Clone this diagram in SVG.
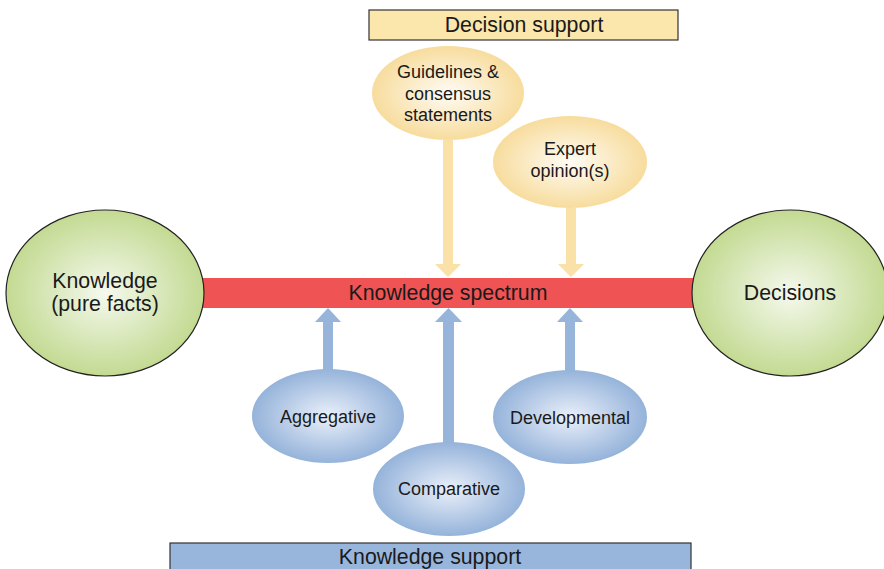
<svg xmlns="http://www.w3.org/2000/svg" width="884" height="569" viewBox="0 0 884 569">
  <defs>
    <radialGradient id="gGreen" cx="50%" cy="50%" r="50%">
      <stop offset="0" stop-color="#f5f9ee"/>
      <stop offset="1" stop-color="#c3da92"/>
    </radialGradient>
    <radialGradient id="gYellow" cx="50%" cy="50%" r="50%">
      <stop offset="0" stop-color="#fffcf5"/>
      <stop offset="1" stop-color="#f7dc9d"/>
    </radialGradient>
    <radialGradient id="gBlue" cx="50%" cy="50%" r="50%">
      <stop offset="0" stop-color="#eaf0fa"/>
      <stop offset="1" stop-color="#95b3da"/>
    </radialGradient>
  </defs>
  <style>
    text { font-family: "Liberation Sans", Arial, sans-serif; fill: #1a1a1a; text-anchor: middle; }
    .big { font-size: 21.3px; }
    .small { font-size: 18px; }
    .green { fill: url(#gGreen); stroke: #222; stroke-width: 1.2; }
    .yellow { fill: url(#gYellow); }
    .blue { fill: url(#gBlue); }
    .ya { fill: #f9e1a8; }
    .ba { fill: #97b5db; }
  </style>

  <!-- spectrum bar -->
  <g id="spectrum">
    <rect x="198" y="278" width="500" height="30" fill="#ef5353"/>
    <text class="big" x="448" y="300">Knowledge spectrum</text>
  </g>

  <!-- arrows feeding the spectrum -->
  <g id="connectors">
    <path class="ya" d="M443,140 H453 V264 H461 L448,277 L435,264 H443 Z"/>
    <path class="ya" d="M566,208 H576 V264 H584 L571,277 L558,264 H566 Z"/>
    <path class="ba" d="M323,370 H333 V322 H341 L328,308 L315,322 H323 Z"/>
    <path class="ba" d="M443,443 H454 V322 H462 L448.5,308 L435,322 H443 Z"/>
    <path class="ba" d="M565,371 H575 V322 H583 L570,308 L557,322 H565 Z"/>
  </g>

  <g id="decision-support">
    <rect x="369" y="10" width="309" height="30" fill="#fbe6ab" stroke="#333" stroke-width="1.2"/>
    <text class="big" x="524" y="32">Decision support</text>
  </g>

  <g id="guidelines">
    <ellipse class="yellow" cx="448" cy="93" rx="76" ry="47"/>
    <text class="small" x="448" y="78">Guidelines &amp;</text>
    <text class="small" x="448" y="100">consensus</text>
    <text class="small" x="448" y="121">statements</text>
  </g>

  <g id="expert">
    <ellipse class="yellow" cx="570" cy="162" rx="77" ry="46"/>
    <text class="small" x="570" y="155">Expert</text>
    <text class="small" x="570" y="177">opinion(s)</text>
  </g>

  <g id="knowledge">
    <ellipse class="green" cx="105" cy="293" rx="99" ry="83"/>
    <text class="big" x="105" y="288">Knowledge</text>
    <text class="big" x="105" y="311">(pure facts)</text>
  </g>

  <g id="decisions">
    <ellipse class="green" cx="790" cy="293" rx="98" ry="83"/>
    <text class="big" x="790" y="300">Decisions</text>
  </g>

  <g id="aggregative">
    <ellipse class="blue" cx="328" cy="416" rx="76" ry="47"/>
    <text class="small" x="328" y="423">Aggregative</text>
  </g>

  <g id="developmental">
    <ellipse class="blue" cx="570" cy="417" rx="77" ry="47"/>
    <text class="small" x="570" y="424">Developmental</text>
  </g>

  <g id="comparative">
    <ellipse class="blue" cx="449" cy="489" rx="76" ry="47"/>
    <text class="small" x="449" y="495">Comparative</text>
  </g>

  <g id="knowledge-support">
    <rect x="170" y="543" width="521" height="30" fill="#98b6dc" stroke="#333" stroke-width="1.2"/>
    <text class="big" x="430" y="564">Knowledge support</text>
  </g>
</svg>
